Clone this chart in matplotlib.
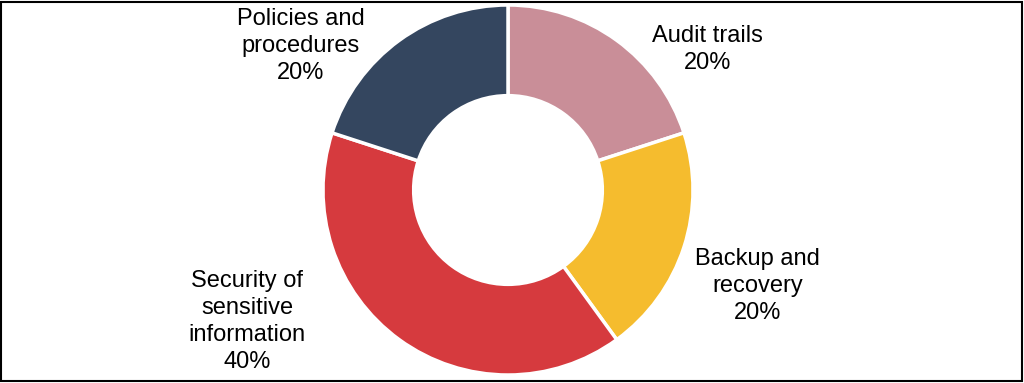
import matplotlib.pyplot as plt
from matplotlib.patches import Rectangle

plt.rcParams['font.family'] = ['Liberation Sans', 'DejaVu Sans']

categories = ['Audit trails', 'Backup and\nrecovery', 'Security of\nsensitive\ninformation', 'Policies and\nprocedures']
shares = [20, 20, 40, 20]
colors = ['#C98E98', '#F5BC2E', '#D63A3E', '#34465F']

# where each label block sits, in units of the outer radius
label_xy = [(1.08, 0.76), (1.35, -0.52), (-1.41, -0.71), (-1.12, 0.78)]

W, H = 1024, 383
R = 185.0          # outer radius in pixels
cx, cy = 508, 190  # centre, pixels from top-left

fig = plt.figure(figsize=(W / 100, H / 100), dpi=100)
ax = fig.add_axes([0, 0, 1, 1])

wedges, _ = ax.pie(shares, colors=colors, startangle=90, counterclock=False,
                   radius=1.0,
                   wedgeprops=dict(width=0.49, edgecolor='white', linewidth=2.5))

for lab, val, (x, y) in zip(categories, shares, label_xy):
    ax.text(x, y, f'{lab}\n{val}%', ha='center', va='center',
            fontsize=17, linespacing=1.3, color='black')

ax.set_aspect('auto')
ax.set_xlim(-cx / R, (W - cx) / R)
ax.set_ylim(-(H - cy) / R, cy / R)
ax.axis('off')

fig.patches.append(Rectangle((1 / W, 2 / H), 1 - 3 / W, 1 - 3.5 / H,
                             transform=fig.transFigure, fill=False,
                             edgecolor='black', linewidth=1.5))

fig.savefig('out.png', dpi=100)
